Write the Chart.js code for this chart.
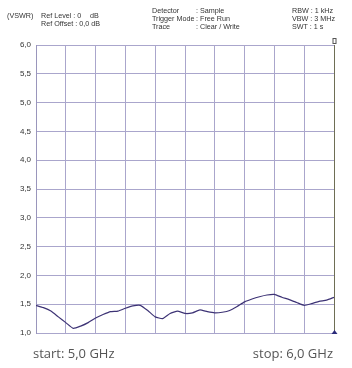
<!DOCTYPE html>
<html>
<head>
<meta charset="utf-8">
<script src="https://cdn.jsdelivr.net/npm/chart.js@4.4.1/dist/chart.umd.min.js"></script>
<style>
    html, body { margin: 0; padding: 0; background: #fff; }
    #wrap { position: relative; width: 352px; height: 368px; overflow: hidden; }
    canvas { position: absolute; left: 0; top: 0; }
    .hdr { position: absolute; font-family: "Liberation Sans", Arial, sans-serif; font-size: 7.2px; line-height: 8px; color: #333; white-space: pre; }
    .foot { position: absolute; top: 344px; font-family: "Open Sans", sans-serif; font-size: 13px; color: #555; }
</style>
</head>
<body>
<div id="wrap">
    <canvas id="vswrChart" width="352" height="368"></canvas>
    <div class="hdr" style="left:7px; top:12px;">(VSWR)</div>
    <div class="hdr" style="left:41px; top:12px;">Ref Level : 0
Ref Offset : 0,0 dB</div>
    <div class="hdr" style="left:90px; top:12px;">dB</div>
    <div class="hdr" style="left:152px; top:7px;">Detector
Trigger Mode
Trace</div>
    <div class="hdr" style="left:196px; top:7px;">: Sample
: Free Run
: Clear / Write</div>
    <div class="hdr" style="left:292px; top:7px;">RBW : 1 kHz
VBW : 3 MHz
SWT : 1 s</div>
    <div class="foot" style="left:33px;">start: 5,0 GHz</div>
    <div class="foot" style="right:19px;">stop: 6,0 GHz</div>
</div>
<script>
const freqGHz = [
    5.000, 5.025, 5.050, 5.075, 5.100, 5.125, 5.150, 5.175, 5.200, 5.225,
    5.250, 5.275, 5.300, 5.325, 5.350, 5.375, 5.400, 5.425, 5.450, 5.475,
    5.500, 5.525, 5.550, 5.575, 5.600, 5.625, 5.650, 5.675, 5.700, 5.725,
    5.750, 5.775, 5.800, 5.825, 5.850, 5.875, 5.900, 5.925, 5.950, 5.975, 6.000
];
const vswr = [
    1.48, 1.44, 1.38, 1.28, 1.18, 1.08, 1.12, 1.18, 1.26, 1.32,
    1.37, 1.38, 1.43, 1.47, 1.48, 1.39, 1.28, 1.25, 1.34, 1.38,
    1.34, 1.35, 1.40, 1.37, 1.35, 1.36, 1.39, 1.46, 1.54, 1.59,
    1.63, 1.66, 1.67, 1.62, 1.58, 1.53, 1.48, 1.51, 1.55, 1.57, 1.62
];
const yMin = 1.0, yMax = 6.0, yStep = 0.5;
const xMin = 5.0, xMax = 6.0, xStep = 0.1;

const points = freqGHz.map((f, i) => ({ x: f, y: vswr[i] }));

// marker line at the stop frequency with small glyphs top and bottom
const markerPlugin = {
    id: 'marker',
    afterDatasetsDraw(chart) {
        const { ctx, scales } = chart;
        const x = Math.round(scales.x.getPixelForValue(xMax)) + 0.5;
        const top = scales.y.getPixelForValue(yMax);
        const bottom = scales.y.getPixelForValue(yMin);
        ctx.save();
        ctx.strokeStyle = '#6e6e55';
        ctx.lineWidth = 1;
        ctx.beginPath();
        ctx.moveTo(x, top);
        ctx.lineTo(x, bottom);
        ctx.stroke();
        ctx.fillStyle = '#2a2a7a';
        ctx.beginPath();
        ctx.moveTo(x, bottom - 3);
        ctx.lineTo(x - 3, bottom + 1);
        ctx.lineTo(x + 3, bottom + 1);
        ctx.closePath();
        ctx.fill();
        ctx.strokeStyle = '#555';
        ctx.strokeRect(x - 1.5, top - 6.5, 3, 5);
        ctx.restore();
    }
};

new Chart(document.getElementById('vswrChart'), {
    type: 'line',
    data: {
        datasets: [{
            data: points,
            borderColor: '#3d3375',
            borderWidth: 1.2,
            pointRadius: 0,
            tension: 0.15,
            fill: false
        }]
    },
    options: {
        responsive: false,
        animation: false,
        layout: { padding: { left: 0, right: 18, top: 45, bottom: 0 } },
        plugins: { legend: { display: false }, tooltip: { enabled: false } },
        scales: {
            x: {
                type: 'linear',
                min: xMin,
                max: xMax,
                ticks: { display: false, stepSize: xStep },
                grid: { color: '#aaa6cc', lineWidth: 1, drawTicks: false },
                border: { color: '#aaa6cc' },
                afterFit: (s) => { s.height = 35; }
            },
            y: {
                min: yMin,
                max: yMax,
                ticks: {
                    stepSize: yStep,
                    color: '#333',
                    padding: 5,
                    font: { family: 'Liberation Sans', size: 8 },
                    callback: (v) => v.toFixed(1).replace('.', ',')
                },
                grid: { color: '#aaa6cc', lineWidth: 1, drawTicks: false },
                border: { color: '#9a96bc' },
                afterFit: (s) => { s.width = 36; }
            }
        }
    },
    plugins: [markerPlugin]
});
</script>
</body>
</html>
